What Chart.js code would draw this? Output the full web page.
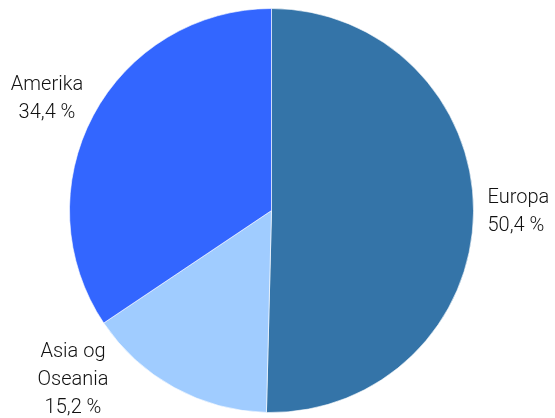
<!DOCTYPE html>
<html><head><meta charset="utf-8">
<script src="https://cdn.jsdelivr.net/npm/chart.js@4/dist/chart.umd.min.js"></script>
<style>html,body{margin:0;padding:0;background:#fff;}#wrap{width:555px;height:418px;position:relative;}</style>
</head><body><div id="wrap"><canvas id="c"></canvas></div>
<script>
const categories = ["Europa", "Asia og Oseania", "Amerika"];
const labelLines = [["Europa"], ["Asia og", "Oseania"], ["Amerika"]];
const shares = [50.4, 15.2, 34.4];
const colors = ["#3474A8", "#A0CCFF", "#3366FF"];
// label block offsets from pie centre (px) and text alignment
const labelOffsets = [[216, 1.5, "left"], [-198.5, 169.5, "center"], [-224.5, -112, "center"]];

const FONT = "Roboto";
const labelPlugin = {
  id: "pieLabels",
  afterDatasetsDraw(chart) {
    const ctx = chart.ctx;
    const meta = chart.getDatasetMeta(0);
    const arc0 = meta.data[0];
    const cx = arc0.x, cy = arc0.y;
    ctx.save();
    ctx.font = "300 20px " + FONT;
    ctx.fillStyle = "#111";
    ctx.textBaseline = "middle";
    const lh = 28;
    meta.data.forEach((arc, i) => {
      const lines = labelLines[i].concat([shares[i].toFixed(1).replace(".", ",") + " %"]);
      const [dx, dy, align] = labelOffsets[i];
      ctx.textAlign = align;
      const x = cx + dx;
      const y0 = cy + dy - (lines.length - 1) * lh / 2;
      lines.forEach((t, j) => ctx.fillText(t, x, y0 + j * lh));
    });
    ctx.restore();
  }
};

new Chart(document.getElementById("c"), {
  type: "pie",
  data: { labels: categories, datasets: [{ data: shares, backgroundColor: colors, borderColor: "rgba(255,255,255,0.6)", borderWidth: 1 }] },
  options: {
    responsive: true, maintainAspectRatio: false, animation: false,
    layout: { padding: { left: 69, right: 81, top: 8, bottom: 5 } },
    plugins: { legend: { display: false }, tooltip: { enabled: false } }
  },
  plugins: [labelPlugin]
});
</script></body></html>
